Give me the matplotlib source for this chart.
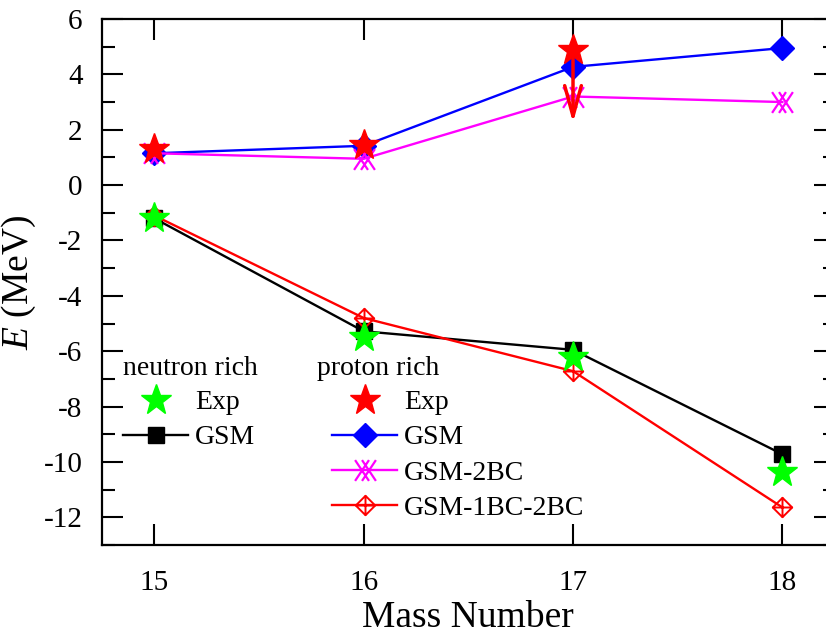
import numpy as np
import matplotlib
matplotlib.use("Agg")
import matplotlib.pyplot as plt
from matplotlib.path import Path

plt.rcParams['font.family'] = ['Liberation Serif', 'DejaVu Serif']
plt.rcParams['mathtext.fontset'] = 'custom'
plt.rcParams['mathtext.it'] = 'Liberation Serif:italic'
plt.rcParams['mathtext.rm'] = 'Liberation Serif'
plt.rcParams['axes.unicode_minus'] = False

# data
mass = [15, 16, 17, 18]
mass_exp = [15, 16, 17]
p_exp = [1.3, 1.45, 4.88]
p_exp_limit = 2.25         # arrow end for A=17 (upper limit)
p_gsm = [1.15, 1.42, 4.27, 4.95]
p_gsm_2bc = [1.15, 0.95, 3.2, 3.0]
n_exp = [-1.2, -5.48, -6.2, -10.35]
n_gsm = [-1.2, -5.28, -5.95, -9.72]
n_gsm_1bc_2bc = [-1.1, -4.8, -6.72, -11.64]

# custom markers: doubled cross, and diamond with a plus inside
a, b = 1 / 6, 0.5
dx = Path([(-b, -b), (a, b), (-b, b), (a, -b),
           (-a, -b), (b, b), (-a, b), (b, -b)],
          [Path.MOVETO, Path.LINETO, Path.MOVETO, Path.LINETO,
           Path.MOVETO, Path.LINETO, Path.MOVETO, Path.LINETO])
dplus = Path([(0, -1), (1, 0), (0, 1), (-1, 0), (0, -1),
              (0, -1), (0, 1), (-1, 0), (1, 0)],
             [Path.MOVETO, Path.LINETO, Path.LINETO, Path.LINETO, Path.CLOSEPOLY,
              Path.MOVETO, Path.LINETO, Path.MOVETO, Path.LINETO])

fig = plt.figure(figsize=(8.26, 6.35), dpi=100)
ax = fig.add_axes([0.1235, 0.1417, 0.887, 0.8284])

lw = 1.7
l_pgsm, = ax.plot(mass, p_gsm, '-', color='blue', lw=lw, marker='D', ms=12, zorder=3)
l_p2bc, = ax.plot(mass, p_gsm_2bc, '-', color='magenta', lw=lw, marker=dx, ms=15,
                  mfc='none', mew=1.6, zorder=3)
l_ngsm, = ax.plot(mass, n_gsm, '-', color='black', lw=lw, marker='s', ms=11, zorder=3)
l_n12, = ax.plot(mass, n_gsm_1bc_2bc, '-', color='red', lw=lw, marker=dplus, ms=14,
                 mfc='none', mew=1.4, zorder=3)
l_nexp, = ax.plot(mass, n_exp, ls='none', marker='*', color='#00ff00', ms=23, zorder=5)
l_pexp, = ax.plot(mass_exp, p_exp, ls='none', marker='*', color='red', ms=23, zorder=5)

ax.annotate('', xy=(17, p_exp_limit), xytext=(17, p_exp[2]),
            arrowprops=dict(arrowstyle='->, head_width=0.3, head_length=1.1',
                            color='red', lw=2.5, mutation_scale=20,
                            shrinkA=0, shrinkB=0), zorder=6)

ax.set_xlim(14.75, 18.25)
ax.set_ylim(-13, 6)
ax.set_xticks(mass)
ax.set_yticks(np.arange(-12, 7, 2))
ax.set_yticks(np.arange(-13, 6, 2), minor=True)
ax.tick_params(which='both', direction='in', top=True, right=True, width=1.5,
               labelsize=21)
ax.tick_params(axis='x', pad=18)
ax.tick_params(axis='y', pad=14)
ax.tick_params(which='major', length=15)
ax.tick_params(which='minor', length=9)
for s in ax.spines.values():
    s.set_linewidth(1.6)

ax.set_xlabel('Mass Number', fontsize=27, labelpad=3)
ax.set_ylabel('$E$ (MeV)', fontsize=27, labelpad=4)

# legends (titles drawn as text so the handles can be indented)
leg_kw = dict(loc='upper left', frameon=False, fontsize=20,
              handlelength=2.35, handletextpad=0.25, labelspacing=0.35,
              borderpad=0, borderaxespad=0)
ax.text(0.0287, 0.3365, 'neutron rich', transform=ax.transAxes, fontsize=20,
        va='center', ha='left')
ax.text(0.293, 0.3365, 'proton rich', transform=ax.transAxes, fontsize=20,
        va='center', ha='left')
leg1 = ax.legend([l_nexp, l_ngsm], ['Exp', 'GSM'],
                 bbox_to_anchor=(0.0287, 0.295), **leg_kw)
ax.add_artist(leg1)
ax.legend([l_pexp, l_pgsm, l_p2bc, l_n12], ['Exp', 'GSM', 'GSM-2BC', 'GSM-1BC-2BC'],
          bbox_to_anchor=(0.314, 0.295), **leg_kw)

fig.savefig('out.png', dpi=100)
